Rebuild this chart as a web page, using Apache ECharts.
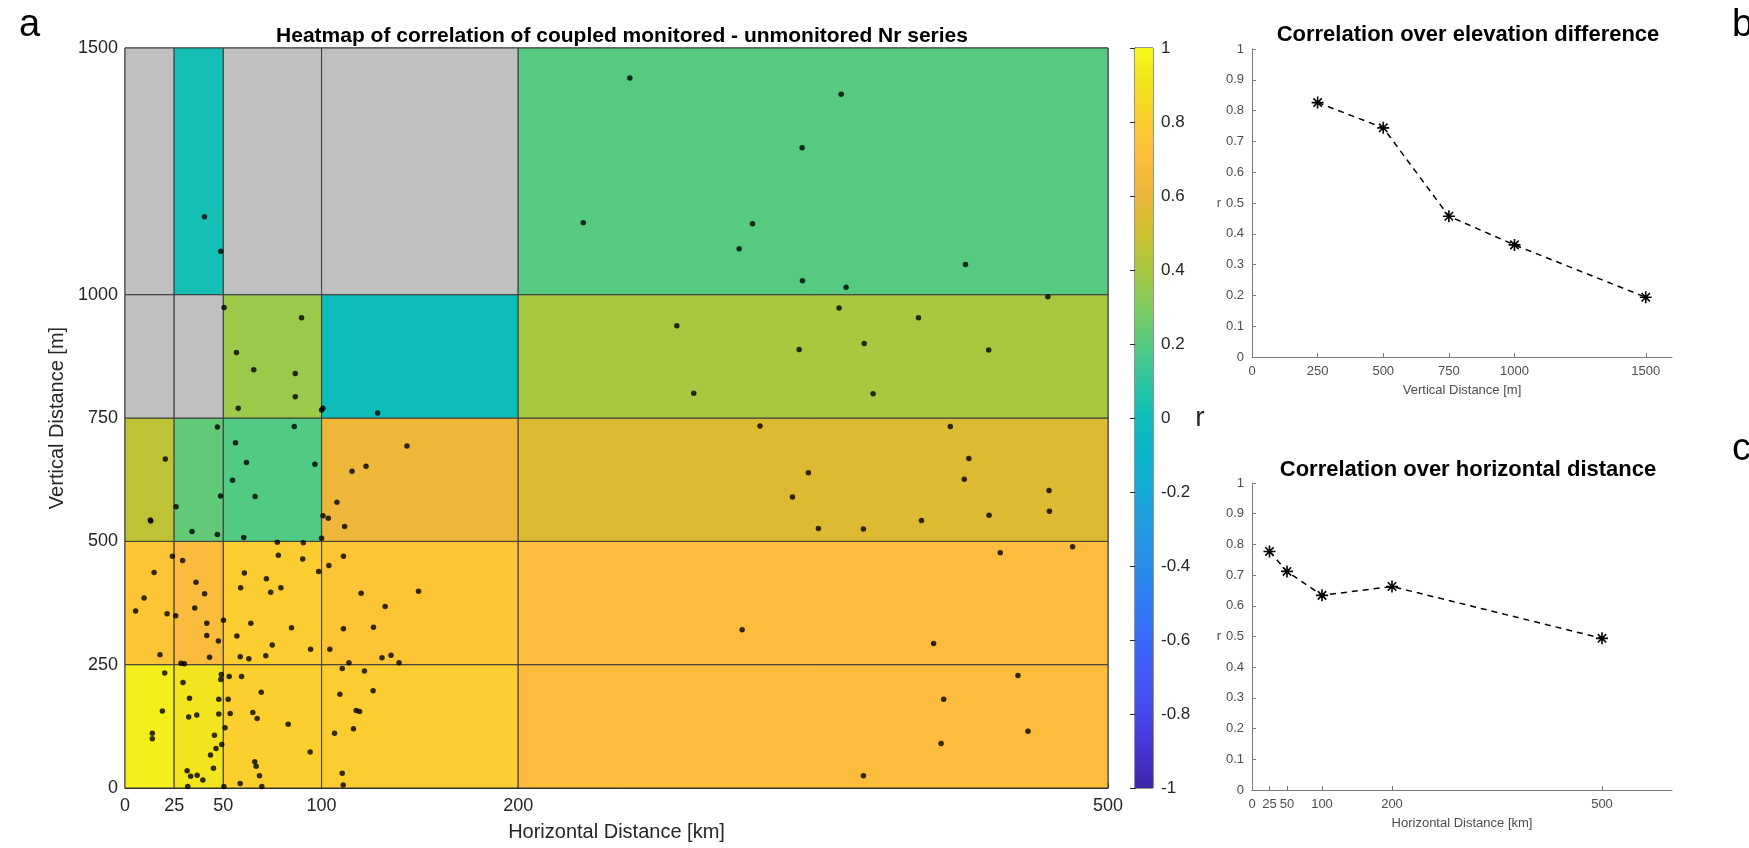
<!DOCTYPE html>
<html>
<head>
<meta charset="utf-8">
<script src="https://cdn.jsdelivr.net/npm/echarts@6/dist/echarts.min.js"></script>
<style>
  html, body { margin: 0; padding: 0; background: #ffffff; }
  #chart { width: 1749px; height: 848px; }
</style>
</head>
<body>
<div id="chart"></div>
<script>
// Bin edges of the heatmap
const xEdges = [0, 25, 50, 100, 200, 500];
const yEdges = [0, 250, 500, 750, 1000, 1500];
// Correlation per cell, rows bottom to top (vertical bins), columns left to right (horizontal bins); null = no pairs
const rCells = [
  [0.96, 0.91, 0.81, 0.80, 0.70],
  [0.75, 0.69, 0.80, 0.75, 0.70],
  [0.46, 0.23, 0.19, 0.62, 0.55],
  [null, null, 0.37, 0.00, 0.40],
  [null, 0.02, null, null, 0.20]
];
// Coupled station pairs: [horizontal km, vertical m]
const pairs = [
  [13.1,541],[34.1,520],[47,514],[60.4,508],[100,506],
  [77.5,498],[90.7,497],[24.1,470],[29.3,461],[78,472],[90.4,464],[14.8,437],[60.7,436],[71.9,424],[36.1,417],
  [58.8,406],[79.3,406],[74.1,397],[40.5,394],[98.5,439],[5.4,359],[9.7,385],[21.4,353],[25.8,349],[35.5,365],
  [41.6,334],[50.1,340],[41.6,309],[47.5,298],[64,334],[56.9,308],[84.7,325],[74.9,290],[94.4,281],[17.8,270],
  [43,265],[58.6,266],[63,262],[71.6,268],
  [28.5,253],[30.2,252],[20.2,233],[49,230],[48.7,220],[53,226],[59.3,226],[29.5,214],[32.8,182],[47.7,180],
  [52.5,180],[69.3,194],[19,156],[32.4,144],[36.5,148],[47.7,150],[53.5,151],[65,153],[67.2,141],[83,129],
  [50.9,122],[45.5,107],[13.9,111],[13.9,100],[49.2,88],[46.3,80],[43.5,67],[94.2,73],[45,40],[31.6,35],
  [33.4,24],[36.7,26],[39.6,16],[66,53],[66.7,44],[68.4,25],[58.6,9],[69.6,3],[50.3,3],[31.9,3],
  [48.7,1088],[40.4,1158],[50.4,974],[89.8,953],[56.7,883],[65.5,848],[86.6,840],[86.6,793],[57.6,770],[100,766],
  [100.7,770],[47,732],[86.1,733],[56.2,700],[20.5,667],[61.8,660],[96.6,656],[54.7,624],[48.6,592],[66.2,591],
  [26,570],[12.9,543],
  [128.5,760],[143.4,693],[122.6,652],[115.5,642],[107.8,579],[100.7,552],[103.4,547],[111.7,530],
  [111.1,470],[103.7,451],[120.1,395],[149.3,399],[132.3,368],[111.1,323],[126.4,326],[104.2,281],[130.7,264],
  [135.3,269],[139.4,254],[113.9,254],[110.5,242],[121.8,237],[109.3,190],[126.2,197],[117.6,157],[119.3,155],
  [106.6,111],[116.2,120],[110.5,30],[111,6],
  [256.8,1439],[364.3,1406],[344.4,1298],[233.1,1146],[319.2,1144],[312.4,1093],[427.5,1061],[344.6,1028],
  [366.8,1015],[469.4,996],[363.2,973],[280.7,937],[403.6,953],[376,901],[342.9,889],[439.3,888],[289.3,800],
  [380.5,799],
  [323,734],[419.8,733],[429.2,668],[347.6,639],[426.9,626],[470,603],[339.5,590],[470.2,561],[439.5,553],
  [405.1,542],[352.7,526],[375.6,525],[482,489],[445.2,477],[313.9,321],[411.3,293],[454.2,228],[416.4,180],
  [459.3,115],[415.1,90],[375.6,25]
];
// Tick labels
const hTicks = [0, 25, 50, 100, 200, 500];
const vTicks = [0, 250, 500, 750, 1000, 1500];
// Correlation against elevation difference (b)
const vDist = [250, 500, 750, 1000, 1500];
const rVert = [0.826, 0.744, 0.457, 0.364, 0.194];
// Correlation against horizontal distance (c)
const hDist = [25, 50, 100, 200, 500];
const rHor = [0.777, 0.712, 0.634, 0.663, 0.494];

// Parula-like colour scale on r in [-1, 1]
const cmap = [
  [-1.0, '#3e26a8'], [-0.9, '#4633d0'], [-0.8, '#4747eb'], [-0.7, '#4258f7'], [-0.6, '#3a6af8'],
  [-0.5, '#2f7cf3'], [-0.4, '#2a8cea'], [-0.3, '#229be0'], [-0.2, '#17a9d6'], [-0.1, '#0ab4ca'],
  [0.0, '#0dbdba'], [0.1, '#2ec5a0'], [0.2, '#55ca80'], [0.3, '#80cb60'], [0.4, '#a8c840'],
  [0.5, '#ccc02e'], [0.6, '#ecb638'], [0.7, '#fdbc3c'], [0.8, '#fccd30'], [0.9, '#f1e21f'], [1.0, '#f6f816']
];
function hexToRgb(h) { return [1, 3, 5].map(i => parseInt(h.substr(i, 2), 16)); }
function rColor(r) {
  for (let i = 0; i < cmap.length - 1; i++) {
    const [a, ca] = cmap[i], [b, cb] = cmap[i + 1];
    if (r <= b || i === cmap.length - 2) {
      const t = Math.max(0, Math.min(1, (r - a) / (b - a)));
      const A = hexToRgb(ca), B = hexToRgb(cb);
      return 'rgb(' + A.map((v, k) => Math.round(v + (B[k] - v) * t)).join(',') + ')';
    }
  }
}

const cellData = [];
rCells.forEach((row, j) => row.forEach((r, i) => {
  cellData.push([xEdges[i], xEdges[i + 1], yEdges[j], yEdges[j + 1], r === null ? NaN : r]);
}));

const FONT = 'Liberation Sans, Arial, sans-serif';
const AX = '#262626';
const plain = v => String(+(+v).toFixed(1));
const asterisk = 'path://M0,5L10,5M5,0L5,10M1.5,1.5L8.5,8.5M8.5,1.5L1.5,8.5';

const chart = echarts.init(document.getElementById('chart'), null, { renderer: 'canvas' });

const smallAxis = (extra) => Object.assign({
  type: 'value',
  axisLine: { show: true, lineStyle: { color: '#7a7a7a', width: 1 } },
  axisTick: { show: true, inside: true, length: 4, lineStyle: { color: '#7a7a7a' } },
  axisLabel: { color: '#4d4d4d', fontFamily: FONT, fontSize: 13, formatter: plain },
  splitLine: { show: false },
  nameTextStyle: { color: '#4d4d4d', fontFamily: FONT, fontSize: 13 }
}, extra);

chart.setOption({
  animation: false,
  backgroundColor: '#ffffff',
  textStyle: { fontFamily: FONT },
  title: [
    { text: 'Heatmap of correlation of coupled monitored - unmonitored Nr series', left: 617, top: 21, textAlign: 'center',
      textStyle: { fontFamily: FONT, fontWeight: 'bold', fontSize: 21, color: '#000' } },
    { text: 'Correlation over elevation difference', left: 1463, top: 19, textAlign: 'center',
      textStyle: { fontFamily: FONT, fontWeight: 'bold', fontSize: 22, color: '#000' } },
    { text: 'Correlation over horizontal distance', left: 1463, top: 454, textAlign: 'center',
      textStyle: { fontFamily: FONT, fontWeight: 'bold', fontSize: 22, color: '#000' } },
    { text: 'a', left: 14, top: 2, textStyle: { fontFamily: FONT, fontWeight: 'normal', fontSize: 38, color: '#000' } },
    { text: 'b', left: 1727, top: 2, textStyle: { fontFamily: FONT, fontWeight: 'normal', fontSize: 38, color: '#000' } },
    { text: 'c', left: 1727, top: 426, textStyle: { fontFamily: FONT, fontWeight: 'normal', fontSize: 38, color: '#000' } }
  ],
  grid: [
    { left: 125, top: 48, width: 983, height: 740, show: true, borderColor: AX, borderWidth: 1, backgroundColor: 'transparent' },
    { left: 1135, top: 48, width: 18, height: 740, show: true, borderColor: AX, borderWidth: 1, backgroundColor: 'transparent' },
    { left: 1252, top: 49, width: 420, height: 308 },
    { left: 1252, top: 483, width: 420, height: 307 }
  ],
  xAxis: [
    { gridIndex: 0, type: 'value', min: 0, max: 500,
      name: 'Horizontal Distance [km]', nameLocation: 'middle', nameGap: 34,
      nameTextStyle: { color: AX, fontFamily: FONT, fontSize: 20 },
      axisLine: { show: true, lineStyle: { color: AX } },
      axisTick: { show: true, inside: true, length: 5, customValues: hTicks, lineStyle: { color: AX } },
      axisLabel: { customValues: hTicks, color: AX, fontFamily: FONT, fontSize: 18, margin: 9, formatter: plain },
      splitLine: { show: false } },
    { gridIndex: 1, type: 'value', min: 0, max: 1, show: false },
    smallAxis({ gridIndex: 2, min: 0, max: 1600, name: 'Vertical Distance [m]', nameLocation: 'middle', nameGap: 27,
      axisLabel: { customValues: vTicks, color: '#4d4d4d', fontFamily: FONT, fontSize: 13, margin: 8, formatter: plain },
      axisTick: { show: true, inside: true, length: 4, customValues: vTicks, lineStyle: { color: '#7a7a7a' } } }),
    smallAxis({ gridIndex: 3, min: 0, max: 600, name: 'Horizontal Distance [km]', nameLocation: 'middle', nameGap: 27,
      axisLabel: { customValues: hTicks, color: '#4d4d4d', fontFamily: FONT, fontSize: 13, margin: 8, formatter: plain },
      axisTick: { show: true, inside: true, length: 4, customValues: hTicks, lineStyle: { color: '#7a7a7a' } } })
  ],
  yAxis: [
    { gridIndex: 0, type: 'value', min: 0, max: 1500,
      name: 'Vertical Distance [m]', nameLocation: 'middle', nameGap: 50,
      nameTextStyle: { color: AX, fontFamily: FONT, fontSize: 20 },
      axisLine: { show: true, lineStyle: { color: AX } },
      axisTick: { show: true, inside: true, length: 5, customValues: vTicks, lineStyle: { color: AX } },
      axisLabel: { customValues: vTicks, color: AX, fontFamily: FONT, fontSize: 18, margin: 7, formatter: plain },
      splitLine: { show: false } },
    { gridIndex: 1, type: 'value', min: -1, max: 1, interval: 0.2, position: 'right',
      name: 'r', nameLocation: 'middle', nameGap: 38, nameRotate: 0,
      nameTextStyle: { color: AX, fontFamily: FONT, fontSize: 28 },
      axisLine: { show: true, lineStyle: { color: AX } },
      axisTick: { show: true, inside: true, length: 5, lineStyle: { color: AX } },
      axisLabel: { color: AX, fontFamily: FONT, fontSize: 17, margin: 8, formatter: plain },
      splitLine: { show: false } },
    smallAxis({ gridIndex: 2, min: 0, max: 1, interval: 0.1, name: 'r', nameLocation: 'middle', nameGap: 25, nameRotate: 0 }),
    smallAxis({ gridIndex: 3, min: 0, max: 1, interval: 0.1, name: 'r', nameLocation: 'middle', nameGap: 25, nameRotate: 0 })
  ],
  series: [
    {
      name: 'cells', type: 'custom', xAxisIndex: 0, yAxisIndex: 0,
      encode: { x: [0, 1], y: [2, 3] },
      data: cellData,
      renderItem: function (params, api) {
        const p0 = api.coord([api.value(0), api.value(3)]);
        const p1 = api.coord([api.value(1), api.value(2)]);
        const r = api.value(4);
        return {
          type: 'rect',
          shape: { x: p0[0], y: p0[1], width: p1[0] - p0[0], height: p1[1] - p0[1] },
          style: { fill: isNaN(r) ? '#c0c0c0' : rColor(r), stroke: '#3a3a3a', lineWidth: 1 }
        };
      },
      z: 1
    },
    {
      name: 'pairs', type: 'scatter', xAxisIndex: 0, yAxisIndex: 0,
      data: pairs, symbol: 'circle', symbolSize: 5.5,
      itemStyle: { color: '#000' }, z: 3
    },
    {
      name: 'colorbar', type: 'custom', xAxisIndex: 1, yAxisIndex: 1,
      data: [[0, 1, -1, 1]],
      encode: { x: [0, 1], y: [2, 3] },
      renderItem: function (params, api) {
        const p0 = api.coord([api.value(0), api.value(3)]);
        const p1 = api.coord([api.value(1), api.value(2)]);
        const stops = cmap.map(([v, c]) => ({ offset: (v + 1) / 2, color: c }));
        return {
          type: 'rect',
          shape: { x: p0[0], y: p0[1], width: p1[0] - p0[0], height: p1[1] - p0[1] },
          style: { fill: new echarts.graphic.LinearGradient(0, 1, 0, 0, stops) }
        };
      },
      z: 1
    },
    {
      name: 'r vs vertical', type: 'line', xAxisIndex: 2, yAxisIndex: 2,
      data: vDist.map((d, i) => [d, rVert[i]]),
      lineStyle: { color: '#000', width: 1.5, type: [6, 5] },
      symbol: asterisk, symbolSize: 12, symbolKeepAspect: true,
      itemStyle: { color: '#000', borderColor: '#000', borderWidth: 1.6 }
    },
    {
      name: 'r vs horizontal', type: 'line', xAxisIndex: 3, yAxisIndex: 3,
      data: hDist.map((d, i) => [d, rHor[i]]),
      lineStyle: { color: '#000', width: 1.5, type: [6, 5] },
      symbol: asterisk, symbolSize: 12, symbolKeepAspect: true,
      itemStyle: { color: '#000', borderColor: '#000', borderWidth: 1.6 }
    }
  ]
});
</script>
</body>
</html>
